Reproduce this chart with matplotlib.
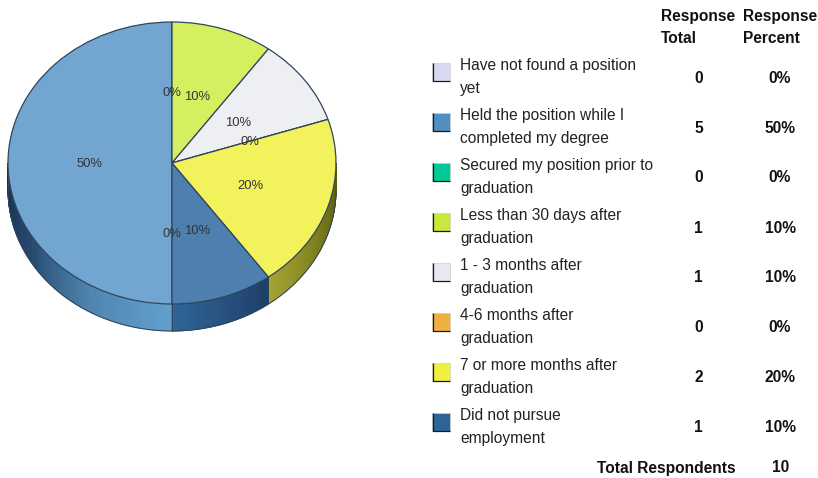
import numpy as np
import matplotlib
matplotlib.use("Agg")
import matplotlib.pyplot as plt
from matplotlib.patches import Rectangle
from matplotlib.colors import to_rgb
from matplotlib.transforms import offset_copy

categories = ["Have not found a position\nyet", "Held the position while I\ncompleted my degree",
              "Secured my position prior to\ngraduation", "Less than 30 days after\ngraduation",
              "1 - 3 months after\ngraduation", "4-6 months after\ngraduation",
              "7 or more months after\ngraduation", "Did not pursue\nemployment"]
totals = [0, 5, 0, 1, 1, 0, 2, 1]
percents = ["0%", "50%", "0%", "10%", "10%", "0%", "20%", "10%"]
respondents = 10
pie_colors = ["#d8d8f0", "#72a5d0", "#00c896", "#d4f060", "#eeeff3", "#f0b040", "#f2f25c", "#4f7fae"]
key_colors = ["#d8d8f0", "#5090c0", "#00c896", "#c8e83c", "#e8e8f0", "#f0b040", "#f0f040", "#2f6498"]
# wall shading along the visible part of each slice, in clockwise order
side_stops = {1: ["#639fce", "#4f85b0", "#25476b", "#16304d"],
              6: ["#55550f", "#7c7c1c", "#a4a432"],
              7: ["#1d3f66", "#2f6498"]}

W, H = 818, 478
plt.rcParams["font.family"] = ["Liberation Sans", "DejaVu Sans"]
fig = plt.figure(figsize=(W / 100, H / 100), dpi=100, facecolor="white")

tb = fig.add_axes([0, 0, 1, 1])
tb.set_xlim(0, W); tb.set_ylim(H, 0); tb.axis("off")

ax = fig.add_axes([8 / W, (H - 304) / H, 328 / W, 282 / H])
wedges, _, autotexts = ax.pie(totals, colors=pie_colors, startangle=-90, counterclock=False,
                              radius=1, autopct="%.0f%%", pctdistance=0.5,
                              wedgeprops=dict(edgecolor="#2f465e", linewidth=0.9),
                              textprops=dict(fontsize=9.4, color="#333333"))
ax.set_aspect("auto"); ax.set_xlim(-1, 1); ax.set_ylim(-1, 1)
for w in wedges:
    w.set_clip_on(False); w.set_zorder(3)
for t in autotexts:
    t.set_zorder(5); t.set_clip_on(False)
    t.set_transform(offset_copy(ax.transData, fig=fig, x=0, y=-1, units="dots"))

depth = 2 * 27 / 282
angles = np.concatenate([[0], np.cumsum(totals)]) / sum(totals) * 360 + 180  # clockwise from top
for i, stops in side_stops.items():
    a0, a1 = angles[i], angles[i + 1]
    # keep only the front half of the ellipse (90..270 degrees, modulo 360)
    if a0 >= 360:
        a0, a1 = a0 - 360, a1 - 360
    a0, a1 = max(a0, 90), min(a1, 270)
    n = 80
    ts = np.radians(np.linspace(a0, a1, n + 1))
    rgb = np.array([to_rgb(c) for c in stops])
    for k in range(n):
        th0, th1 = ts[k], ts[k + 1]
        f = (k + .5) / n
        col = [np.interp(f, np.linspace(0, 1, len(stops)), rgb[:, c]) for c in range(3)]
        xs = [np.sin(th0), np.sin(th1), np.sin(th1), np.sin(th0)]
        ys = [np.cos(th0), np.cos(th1), np.cos(th1) - depth, np.cos(th0) - depth]
        ax.fill(xs, ys, facecolor=col, edgecolor=col, lw=0.7, zorder=1, clip_on=False)
th = np.radians(np.linspace(90, 270, 200))
ax.plot(np.sin(th), np.cos(th) - depth, color="#2f465e", lw=0.7, zorder=2, clip_on=False)
ax.plot([-1, -1], [0, -depth], color="#2f465e", lw=0.7, zorder=2, clip_on=False)
for a in angles[[1, 8]]:
    r = np.radians(a)
    ax.plot([np.sin(r)] * 2, [np.cos(r), np.cos(r) - depth], color="#2f465e", lw=0.7, zorder=2, clip_on=False)

fs = 11.2
ink = "#111111"
for x, a, b in [(661, "Response", "Total"), (743, "Response", "Percent")]:
    tb.text(x, 16, a, fontsize=fs, fontweight="bold", va="center", ha="left", color=ink)
    tb.text(x, 38, b, fontsize=fs, fontweight="bold", va="center", ha="left", color=ink)
for i, (c, tot, pct, kc) in enumerate(zip(categories, totals, percents, key_colors)):
    yc = 77 + 50 * i
    tb.add_patch(Rectangle((432, yc - 14), 18, 18, facecolor=kc, edgecolor="#cfcfcf", lw=0.5))
    tb.plot([432.5, 432.5, 450], [yc - 14, yc + 4, yc + 4], color="#1a1a1a", lw=0.9, solid_capstyle="butt")
    l1, l2 = c.split("\n")
    tb.text(460, yc - 11.5, l1, fontsize=fs, va="center", ha="left", color="#222222")
    tb.text(460, yc + 11, l2, fontsize=fs, va="center", ha="left", color="#222222")
    tb.text(698.5, yc + 1, str(tot), fontsize=fs, fontweight="bold", va="center", ha="center", color=ink)
    tb.text(780, yc + 1, pct, fontsize=fs, fontweight="bold", va="center", ha="center", color=ink)
tb.text(736, 468, "Total Respondents", fontsize=fs, fontweight="bold", va="center", ha="right", color=ink)
tb.text(781, 468, str(respondents), fontsize=fs, fontweight="bold", va="center", ha="center", color=ink)

fig.savefig("out.png", dpi=100)
